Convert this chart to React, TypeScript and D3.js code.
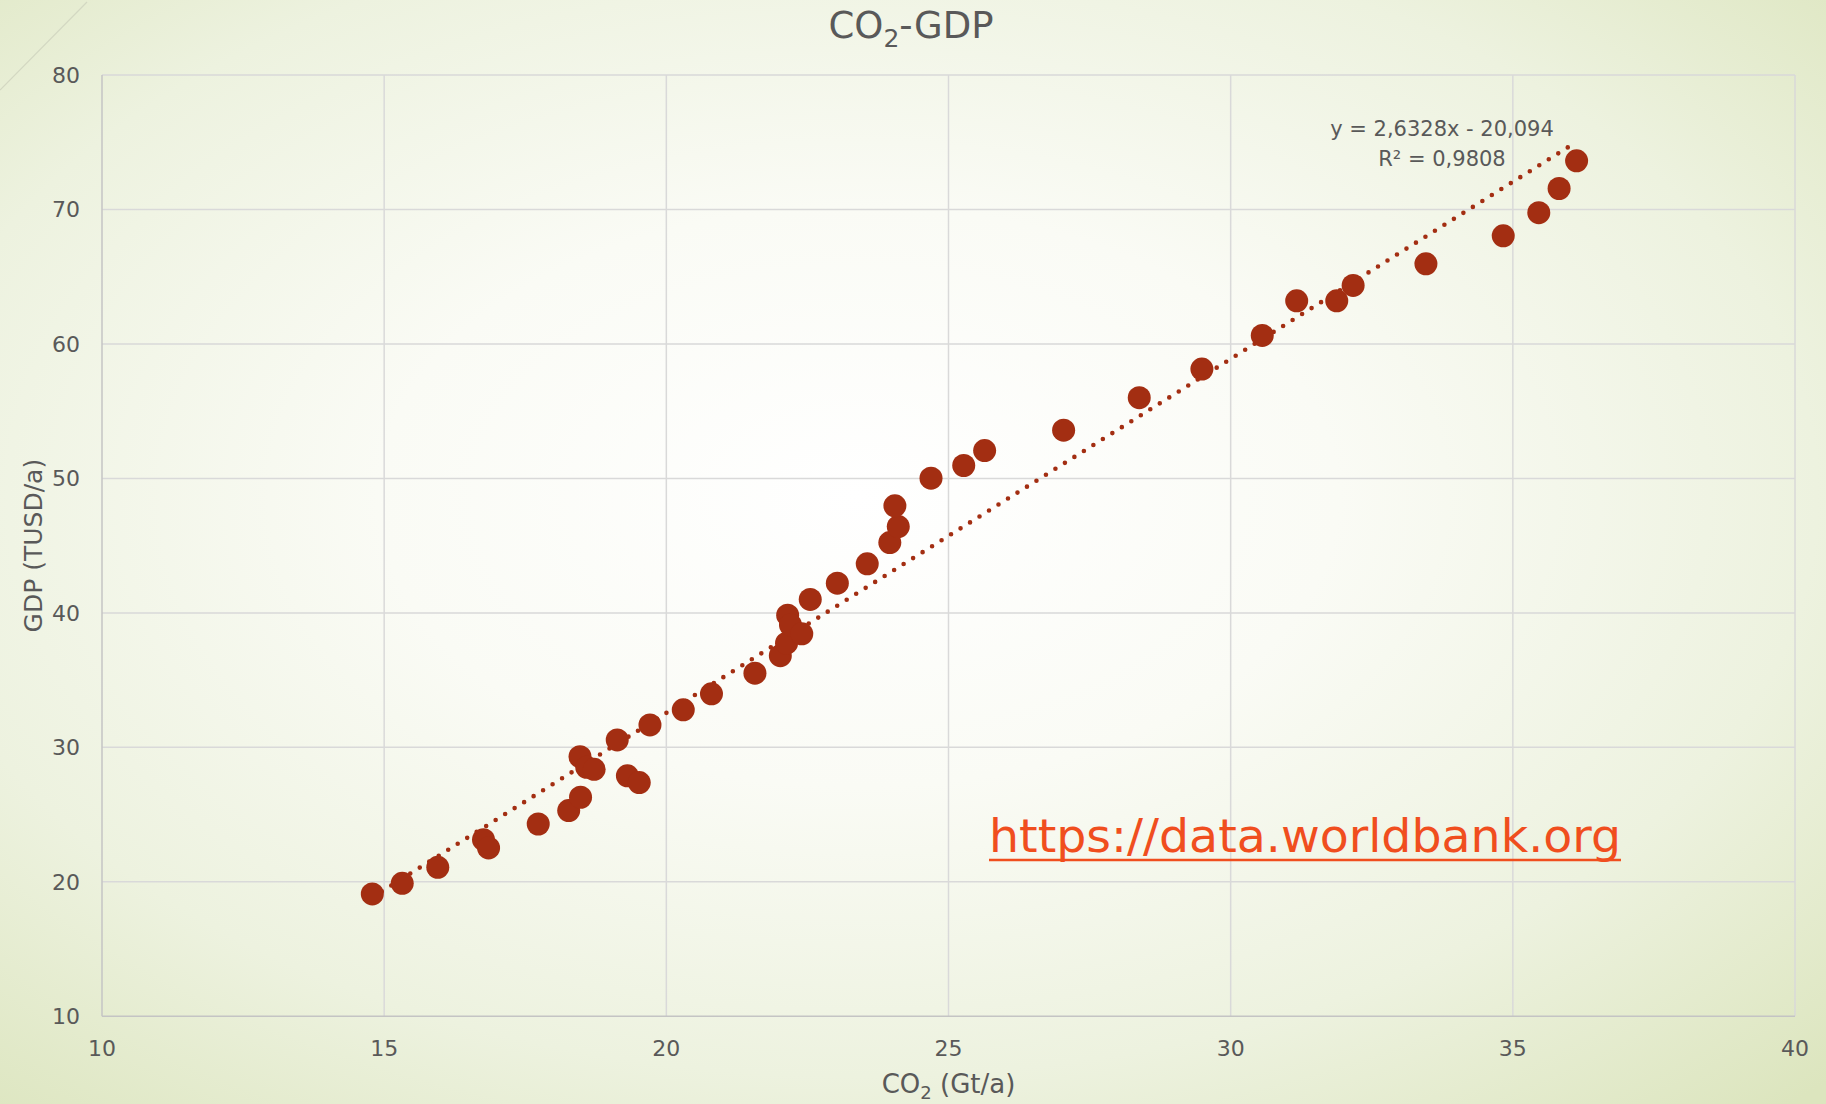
import React from "react";
import * as d3 from "d3";

const co2 = [14.79, 15.32, 15.95, 16.76, 16.85, 17.73, 18.27, 18.48, 18.47, 18.59, 18.72, 19.13, 19.31, 19.52, 19.71, 20.30, 20.80, 21.57, 22.02, 22.13, 22.15, 22.20, 22.40, 22.55, 23.03, 23.56, 23.96, 24.11, 24.05, 24.69, 25.27, 25.64, 27.04, 28.38, 29.49, 30.56, 31.17, 31.88, 32.17, 33.46, 34.83, 35.46, 35.82, 36.13];
const gdp = [19.10, 19.89, 21.08, 23.13, 22.52, 24.30, 25.30, 26.29, 29.31, 28.52, 28.37, 30.55, 27.88, 27.38, 31.67, 32.79, 33.98, 35.52, 36.82, 37.75, 39.83, 39.10, 38.44, 41.00, 42.21, 43.65, 45.23, 46.42, 47.96, 50.02, 50.96, 52.07, 53.59, 56.00, 58.13, 60.63, 63.21, 63.21, 64.35, 65.96, 68.04, 69.76, 71.56, 73.62];
const xTicks = [10, 15, 20, 25, 30, 35, 40];
const yTicks = [10, 20, 30, 40, 50, 60, 70, 80];
const slope = 2.6328;
const intercept = -20.094;
const eqLabel = "y = 2,6328x - 20,094";
const r2Label = "R² = 0,9808";
const linkLabel = "https://data.worldbank.org";

const W = 1826;
const H = 1104;
const FONT = "'DejaVu Sans', sans-serif";

export default function App() {
  const margin = { left: 102, right: W - 1795, top: 75, bottom: H - 1016.3 };
  const x = d3.scaleLinear().domain([10, 40]).range([margin.left, W - margin.right]);
  const y = d3.scaleLinear().domain([10, 80]).range([H - margin.bottom, margin.top]);
  const xMin = d3.min(co2) as number;
  const xMax = d3.max(co2) as number;
  const trend = d3.line<number>().x((d) => x(d)).y((d) => y(slope * d + intercept));
  const markerColor = "#A32E12";
  const textColor = "#595959";
  const gridColor = "#D9D9D9";
  const plotCx = (x(10) + x(40)) / 2;
  const plotCy = (y(10) + y(80)) / 2;

  return (
    <div style={{ position: "absolute", left: 0, top: 0 }}>
      <svg width={W} height={H} style={{ display: "block" }} fontFamily={FONT}>
        <defs>
          <radialGradient id="bg" cx="47%" cy="45%" r="75%" fx="47%" fy="45%">
            <stop offset="0" stopColor="#FFFFFF" />
            <stop offset="0.35" stopColor="#FAFBF5" />
            <stop offset="0.7" stopColor="#EDF2DF" />
            <stop offset="1" stopColor="#DCE5BE" />
          </radialGradient>
        </defs>
        <rect x={0} y={0} width={W} height={H} fill="url(#bg)" />
        <line x1={0} y1={90} x2={87} y2={2} stroke="#D3D8C2" strokeWidth={1.2} />

        {/* grid */}
        {yTicks.filter((t) => t !== 10).map((t) => (
          <line key={"gy" + t} x1={x(10)} x2={x(40)} y1={y(t)} y2={y(t)} stroke={gridColor} strokeWidth={1.5} />
        ))}
        {xTicks.filter((t) => t !== 10).map((t) => (
          <line key={"gx" + t} x1={x(t)} x2={x(t)} y1={y(10)} y2={y(80)} stroke={gridColor} strokeWidth={1.5} />
        ))}
        <line x1={x(10)} x2={x(10)} y1={y(10)} y2={y(80)} stroke="#C4C4C4" strokeWidth={1.5} />
        <line x1={x(10)} x2={x(40)} y1={y(10)} y2={y(10)} stroke="#C4C4C4" strokeWidth={1.5} />

        {/* tick labels */}
        {yTicks.map((t) => (
          <text key={"ty" + t} x={80} y={y(t)} dy="0.36em" textAnchor="end" fontSize={22} fill={textColor}>
            {t}
          </text>
        ))}
        {xTicks.map((t) => (
          <text key={"tx" + t} x={x(t)} y={1056} textAnchor="middle" fontSize={22} fill={textColor}>
            {t}
          </text>
        ))}

        {/* title */}
        <text x={911} y={38} textAnchor="middle" fontSize={37} fill={textColor}>
          CO
          <tspan fontSize={25} dy={9}>2</tspan>
          <tspan dy={-9}>-GDP</tspan>
        </text>

        {/* axis titles */}
        <text x={plotCx} y={1093} textAnchor="middle" fontSize={26} fill={textColor}>
          CO
          <tspan fontSize={18} dy={6}>2</tspan>
          <tspan dy={-6}> (Gt/a)</tspan>
        </text>
        <text transform={`translate(42,${plotCy}) rotate(-90)`} textAnchor="middle" fontSize={25} fill={textColor}>
          GDP (TUSD/a)
        </text>

        {/* trendline */}
        <path
          d={trend([xMin, xMax]) as string}
          fill="none"
          stroke={markerColor}
          strokeWidth={4.6}
          strokeLinecap="round"
          strokeDasharray="0 11.2"
        />

        {/* points */}
        {co2.map((c, i) => (
          <circle key={i} cx={x(c)} cy={y(gdp[i])} r={11.5} fill={markerColor} />
        ))}

        {/* equation */}
        <text x={1442} y={136} textAnchor="middle" fontSize={21} fill={textColor}>
          {eqLabel}
        </text>
        <text x={1442} y={166} textAnchor="middle" fontSize={21} fill={textColor}>
          {r2Label}
        </text>

        {/* link */}
        <text x={989} y={852} fontSize={46} fill="#F04E1E" textLength={632} lengthAdjust="spacingAndGlyphs">
          {linkLabel}
        </text>
        <line x1={989} x2={1621} y1={860} y2={860} stroke="#F04E1E" strokeWidth={2.6} />
      </svg>
    </div>
  );
}
